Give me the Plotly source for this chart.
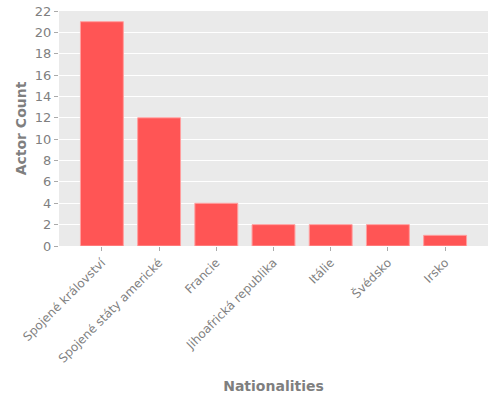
import plotly.graph_objects as go

# data
nationalities = ["Spojené království", "Spojené státy americké", "Francie",
                 "Jihoafrická republika", "Itálie", "Švédsko", "Irsko"]
actor_count = [21, 12, 4, 2, 2, 2, 1]

fig = go.Figure()

fig.add_trace(go.Bar(x=nationalities, y=actor_count,
                     width=0.75,
                     marker=dict(color="#FF5555",
                                 line=dict(color="#FFA0A0", width=1))))

fig.update_layout(
    width=500, height=400,
    margin=dict(l=59, r=12, t=11, b=154, autoexpand=False),
    paper_bgcolor="white",
    plot_bgcolor="#EAEAEA",
    font=dict(family="DejaVu Sans", size=12, color="#7F7F7F"),
    showlegend=False,
)

fig.update_xaxes(
    range=[-0.75, 6.75],
    tickangle=-45,
    ticks="outside", ticklen=4, tickcolor="#AAAAAA",
    showgrid=False, automargin=False,
    title=dict(text="<b>Nationalities</b>", font=dict(size=14), standoff=16),
)

fig.update_yaxes(
    range=[0, 22], dtick=2,
    ticks="outside", ticklen=4, tickcolor="#AAAAAA",
    tickfont=dict(size=13),
    gridcolor="white", gridwidth=1,
    zeroline=False, automargin=False,
    title=dict(text="<b>Actor Count</b>", font=dict(size=14), standoff=4),
)

# drop the default body margin so the figure sits at the page corner
fig.write_html("out.html", config={"displayModeBar": False},
               post_script="document.body.style.margin='0';")
